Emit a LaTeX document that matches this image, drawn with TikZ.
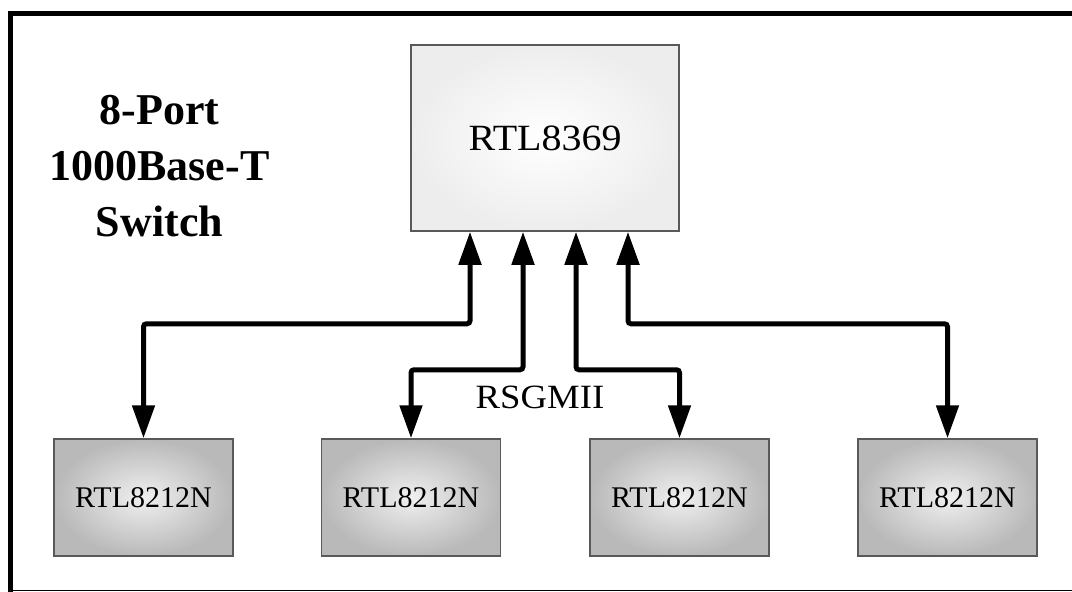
\documentclass[tikz,border=0pt]{standalone}
\usepackage{fontspec}
\setmainfont{Liberation Serif}
\newfontfamily\chipfont[FakeStretch=1.08]{Liberation Serif}
\usetikzlibrary{arrows.meta}
\begin{document}
\begin{tikzpicture}[x=1pt,y=-1pt,
  chip/.style={draw=gray!70!black,line width=1.5pt,inner sep=0pt,
    minimum width=179pt,minimum height=117pt,
    inner color=gray!12,outer color=gray!55,
    font=\fontsize{30}{32}\selectfont},
  link/.style={line width=5pt,rounded corners=3pt,
    {Triangle[width=22pt,length=33pt]}-{Triangle[width=22pt,length=33pt]}}]
\useasboundingbox (0,0) rectangle (1072,592);
% outer frame
\draw[line width=5pt] (10.5,592) -- (10.5,13.5) -- (1072,13.5);
\draw[line width=1.5pt] (10.5,590.5) -- (1072,590.5);
\node[font=\bfseries\fontsize{44}{56}\selectfont,align=center,inner sep=0pt] (title) at (159.5,166) {8-Port\\1000Base-T\\Switch};
\node[draw=gray!70!black,line width=1.5pt,inner sep=0pt,
  minimum width=268pt,minimum height=186pt,
  inner color=white,outer color=gray!14,
  font=\chipfont\fontsize{37}{40}\selectfont] (sw) at (545,138) {RTL8369};
\node[chip] (phy1) at (143.5,497.5) {RTL8212N};
\node[chip] (phy2) at (411,497.5) {RTL8212N};
\node[chip] (phy3) at (679.5,497.5) {RTL8212N};
\node[chip] (phy4) at (947.5,497.5) {RTL8212N};
\node[font=\chipfont\fontsize{34}{36}\selectfont] (bus) at (540,397) {RSGMII};
% RSGMII links
\draw[link] ([xshift=-75pt]sw.south) -- ++(0,92) -| (phy1.north);
\draw[link] ([xshift=-22pt]sw.south) -- ++(0,138) -| (phy2.north);
\draw[link] ([xshift=31pt]sw.south) -- ++(0,138) -| (phy3.north);
\draw[link] ([xshift=83pt]sw.south) -- ++(0,92) -| (phy4.north);
\end{tikzpicture}
\end{document}
